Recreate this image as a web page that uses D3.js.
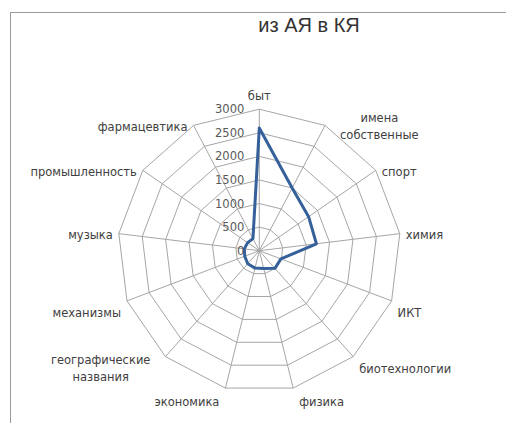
<!DOCTYPE html>
<html>
<head>
<meta charset="utf-8">
<script src="https://cdn.jsdelivr.net/npm/d3@7"></script>
<style>
  html, body { margin: 0; padding: 0; background: #fff; }
  svg { display: block; }
</style>
</head>
<body>
<svg id="chart" width="506" height="423"></svg>
<script>
// Radar chart: term borrowings "из АЯ в КЯ" by domain
const categories = [
  ["быт"],
  ["имена", "собственные"],
  ["спорт"],
  ["химия"],
  ["ИКТ"],
  ["биотехнологии"],
  ["физика"],
  ["экономика"],
  ["географические", "названия"],
  ["механизмы"],
  ["музыка"],
  ["промышленность"],
  ["фармацевтика"]
];
const values = [2600, 1500, 1270, 1220, 490, 500, 390, 380, 370, 330, 320, 300, 290];
const tickValues = [0, 500, 1000, 1500, 2000, 2500, 3000];
const title = "из АЯ в КЯ";

const W = 506, H = 423;
const cx = 259.3, cy = 250.7, R = 141.5;
const svg = d3.select("#chart");

// chart area frame (top and left edges visible)
svg.append("rect")
  .attr("x", 10.5).attr("y", 12.5)
  .attr("width", W + 20).attr("height", H + 20)
  .attr("fill", "#fff").attr("stroke", "#9a9a9a").attr("stroke-width", 1);

svg.append("text")
  .attr("x", 309).attr("y", 32)
  .attr("text-anchor", "middle")
  .attr("font-family", "Liberation Sans, Arial, sans-serif")
  .attr("font-size", 20)
  .attr("fill", "#333")
  .text(title);

const n = categories.length;
const angle = d3.scaleLinear().domain([0, n]).range([0, 2 * Math.PI]);
const r = d3.scaleLinear().domain([0, 3000]).range([0, R]);
const pt = (i, v) => [cx + r(v) * Math.sin(angle(i)), cy - r(v) * Math.cos(angle(i))];

const g = svg.append("g");

// grid rings
const ringLine = d3.line().curve(d3.curveLinearClosed);
tickValues.filter(t => t > 0).forEach(t => {
  g.append("path")
    .attr("d", ringLine(d3.range(n).map(i => pt(i, t))))
    .attr("fill", "none").attr("stroke", "#a6a6a6").attr("stroke-width", 1);
});

// spokes
d3.range(n).forEach(i => {
  const [x, y] = pt(i, 3000);
  g.append("line")
    .attr("x1", cx).attr("y1", cy).attr("x2", x).attr("y2", y)
    .attr("stroke", "#a6a6a6").attr("stroke-width", 1);
});

// value axis labels
g.selectAll(".tick").data(tickValues).join("text")
  .attr("class", "tick")
  .attr("x", cx - 15)
  .attr("y", d => cy - r(d))
  .attr("dy", "0.35em")
  .attr("text-anchor", "end")
  .attr("font-family", "DejaVu Sans, sans-serif")
  .attr("font-size", 11.5)
  .attr("fill", "#595959")
  .text(d => d);

// series
g.append("path")
  .attr("d", ringLine(values.map((v, i) => pt(i, v))))
  .attr("fill", "none")
  .attr("stroke", "#35609a")
  .attr("stroke-width", 3)
  .attr("stroke-linejoin", "round");

// category labels
const labelFont = { family: "DejaVu Sans, sans-serif", size: 11.5 };
categories.forEach((lines, i) => {
  const a = angle(i);
  const dx = Math.sin(a), dy = -Math.cos(a);
  const [vx, vy] = pt(i, 3000);
  const wrapped = lines.length > 1;
  const gap = wrapped ? 15 : 6;
  const t = g.append("text")
    .attr("font-family", labelFont.family)
    .attr("font-size", labelFont.size)
    .attr("fill", "#404040")
    .attr("text-anchor", "middle");
  lines.forEach((s, k) => t.append("tspan").text(s));
  const widths = [];
  t.selectAll("tspan").each(function () { widths.push(this.getComputedTextLength()); });
  const bw = d3.max(widths);
  const lh = wrapped ? 17 : 0;
  let x, y;
  if (Math.abs(dx) < 0.05) {
    x = vx; y = vy - 13 + 4;
  } else {
    x = dx > 0 ? vx + gap + bw / 2 : vx - gap - bw / 2;
    if (dy > 0.9) y = vy + 14;
    else if (dy > 0.2) y = vy + 12;
    else y = vy + 1.5;
    y -= (lines.length - 1) * lh / 2;
    y += 4;
  }
  t.selectAll("tspan")
    .attr("x", x)
    .attr("y", (d, k) => y + k * lh);
});
</script>
</body>
</html>
